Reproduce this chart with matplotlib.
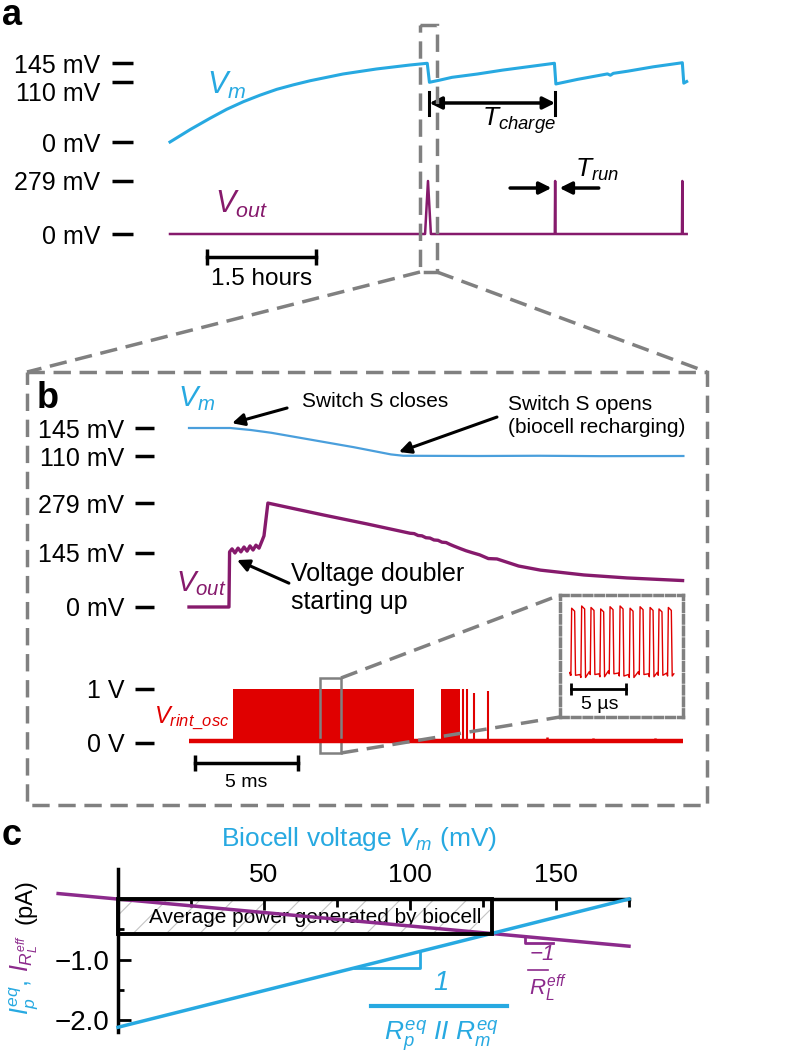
import numpy as np
import matplotlib
matplotlib.use('Agg')
import matplotlib.pyplot as plt
from matplotlib.patches import Rectangle

W, H = 788, 1061
plt.rcParams['font.family'] = ['Liberation Sans', 'DejaVu Sans']
plt.rcParams['mathtext.fontset'] = 'custom'
plt.rcParams['mathtext.rm'] = 'Liberation Sans'
plt.rcParams['mathtext.it'] = 'Liberation Sans:italic'
plt.rcParams['mathtext.bf'] = 'Liberation Sans:bold'
plt.rcParams['hatch.linewidth'] = 0.8

CYAN = '#27a9e1'
BLUE_B = '#4a9fdc'
PURPLE = '#861a6c'
PURPLE_C = '#8c2a8c'
RED = '#e00000'
GRAY = '#808080'

# ---- panel a: hours / mV ----
a_vm_t = [0.0, 0.28, 0.55, 0.78, 1.01, 1.24, 1.47, 1.70, 1.93, 2.38, 2.84, 3.30,
          3.54, 3.57, 3.72, 3.88, 4.23, 4.58, 4.92,
          5.29, 5.31, 5.61, 6.02, 6.06, 6.10, 6.30, 6.65,
          7.05, 7.07, 7.11]
a_vm_mv = [0, 23, 43.5, 60, 74, 86, 96.7, 105, 112.5, 124.8, 134, 141.3,
           144.5, 109.6, 113.8, 118.7, 124.8, 132, 138,
           144.5, 106.5, 115, 125, 122.5, 126, 130, 138,
           145.5, 108, 111]
a_out_t = [0, 3.51, 3.55, 3.59, 5.295, 5.30, 5.305, 7.045, 7.05, 7.055, 7.11]
a_out_mv = [0, 0, 279, 0, 0, 279, 0, 0, 279, 0, 0]
a_vm_ticks = [0, 110, 145]
a_vm_labels = ['0 mV', '110 mV', '145 mV']
a_out_ticks = [0, 279]
a_out_labels = ['0 mV', '279 mV']

# ---- panel b: ms / mV / V ----
b_vm_t = [0, 2.0, 3.0, 4.0, 5.0, 6.0, 7.0, 8.0, 9.0, 9.8, 10.4, 14.0, 17.0, 20.0, 24.0]
b_vm_mv = [145, 145, 142.5, 139, 134.5, 130, 125.5, 121, 116, 112, 110.3, 110, 110.3, 109.8, 110]
b_out_t = [0, 1.94, 1.97, 2.09, 2.23, 2.38, 2.52, 2.67, 2.82, 2.96,
           3.11, 3.25, 3.40, 3.54, 3.64, 3.83, 6.53, 8.64, 10.73, 10.93,
           11.12, 11.31, 11.50, 11.70, 11.89, 12.09, 12.28, 12.48, 12.67, 12.84,
           13.16, 13.45, 13.74, 14.11, 14.53, 14.95, 16.0, 17.06, 19.17, 21.26,
           23.96]
b_out_mv = [0, 0, 148, 156, 145, 158, 148, 161, 150, 164,
            153, 166, 158, 177, 191, 279, 247, 223, 198, 197,
            192, 191, 186, 185, 180, 179, 174, 173, 168, 164,
            157, 151, 146, 140, 130, 129, 110, 99, 86, 78,
            71]
b_vm_ticks = [110, 145]
b_vm_labels = ['110 mV', '145 mV']
b_out_ticks = [0, 145, 279]
b_out_labels = ['0 mV', '145 mV', '279 mV']

osc_bursts = [(2.14, 10.92), (12.23, 13.16)]
osc_spike_t = [13.30, 13.50, 13.83, 14.51]
osc_spike_v = [1.0, 1.0, 0.93, 0.97]
osc_base = 0.03
osc_noise_t = [0.35, 0.8, 1.2, 1.6, 11.4, 11.9, 15.3, 16.1, 17.4, 18.3, 19.6, 20.4, 21.5, 22.6, 23.4]
osc_noise_v = [0.07, 0.08, 0.06, 0.07, 0.09, 0.07, 0.07, 0.08, 0.12, 0.08, 0.10, 0.07, 0.08, 0.09, 0.07]
osc_ticks = [0, 1]
osc_labels = ['0 V', '1 V']

# inset, microseconds
pulse_center_us = [0.21, 1.12, 1.97, 2.85, 3.70, 4.61, 5.52, 6.43, 7.34, 8.15, 9.0]
pulse_top_v = [0.97, 1.0, 0.98, 0.96, 0.99, 1.0, 0.97, 0.99, 0.98, 0.96, 0.98]
pulse_low_v = [0.06, 0.03, 0.07, 0.04, 0.08, 0.05, 0.03, 0.07, 0.04, 0.06, 0.05]

# ---- panel c: mV / pA ----
c_vm = [0, 175]
c_ip = [-2.12, 0.0]
c_rl_vm = [-20.5, 175]
c_rl_i = [0.09, -0.78]

fig = plt.figure(figsize=(W / 100, H / 100), dpi=100)


def make_ax(box, x0, xs, y0, ys):
    # box in pixels (left, right, top, bottom); x0/y0 = pixel of data zero, xs/ys = px per unit
    l, r, t, b = box
    ax = fig.add_axes([l / W, 1 - b / H, (r - l) / W, (b - t) / H])
    ax.set_xlim((l - x0) / xs, (r - x0) / xs)
    ax.set_ylim((y0 - b) / ys, (y0 - t) / ys)
    ax.patch.set_visible(False)
    return ax


def trace_ax(ax, ticks, labels, length, pad):
    for s in ax.spines.values():
        s.set_visible(False)
    ax.set_xticks([])
    ax.set_yticks(ticks, labels)
    ax.tick_params(axis='y', direction='out', length=length, width=2.5, labelsize=18, pad=pad)


# panel a
ax_vm = make_ax((133, 700, 50, 150), 170, 72.67, 142, 0.5448)
ax_out = make_ax((133, 700, 170, 245), 170, 72.67, 234, 0.19)
trace_ax(ax_vm, a_vm_ticks, a_vm_labels, 15, 8.5)
trace_ax(ax_out, a_out_ticks, a_out_labels, 15, 8.5)
for lbl in ax_vm.get_yticklabels():
    if lbl.get_text() == '110 mV':
        lbl.set_va('top')
ax_vm.plot(a_vm_t, a_vm_mv, color=CYAN, lw=2.2, clip_on=False)
ax_out.plot(a_out_t, a_out_mv, color=PURPLE, lw=1.8, clip_on=False)
ax_vm.text(0.51, 103, r'$V_m$', color=CYAN, fontsize=22, va='center')
ax_out.text(0.62, 153, r'$V_{out}$', color=PURPLE, fontsize=22, va='center')

ax_vm.plot([3.57, 3.57], [49.6, 91.8], color='k', lw=2.2, clip_on=False)
ax_vm.plot([5.30, 5.30], [49.6, 91.8], color='k', lw=2.2, clip_on=False)
ax_vm.annotate('', xy=(5.30, 71.6), xytext=(3.57, 71.6),
               arrowprops=dict(arrowstyle='<|-|>', lw=2.5, color='k', mutation_scale=18,
                               shrinkA=0, shrinkB=0))
ax_vm.text(4.29, 38.5, r'$T_{charge}$', fontsize=19, va='center')
ax_out.annotate('', xy=(5.25, 242), xytext=(4.68, 242),
                arrowprops=dict(arrowstyle='-|>', lw=2.5, color='k', mutation_scale=18,
                                shrinkA=0, shrinkB=0))
ax_out.annotate('', xy=(5.36, 242), xytext=(5.90, 242),
                arrowprops=dict(arrowstyle='-|>', lw=2.5, color='k', mutation_scale=18,
                                shrinkA=0, shrinkB=0))
ax_out.text(5.57, 337, r'$T_{run}$', fontsize=19, va='center')
ax_out.plot([0.51, 2.01], [-121, -121], color='k', lw=2.5, marker='|', ms=11, mew=2.5, clip_on=False)
ax_out.text(1.26, -237, '1.5 hours', fontsize=17.5, ha='center', va='center')

# panel b
ax_bvm = make_ax((154, 695, 415, 465), 189, 20.6, 544, 0.8)
ax_bout = make_ax((154, 695, 495, 612), 189, 20.6, 607, 0.3725)
ax_osc = make_ax((154, 695, 680, 750), 189, 20.6, 743, 54)
trace_ax(ax_bvm, b_vm_ticks, b_vm_labels, 13.5, 8)
trace_ax(ax_bout, b_out_ticks, b_out_labels, 13.5, 8)
trace_ax(ax_osc, osc_ticks, osc_labels, 13.5, 8)

ax_bvm.plot(b_vm_t, b_vm_mv, color=BLUE_B, lw=1.6, clip_on=False)
ax_bout.plot(b_out_t, b_out_mv, color=PURPLE, lw=2.4, clip_on=False)
ax_bvm.text(-0.53, 182, r'$V_m$', color=CYAN, fontsize=21, va='center', clip_on=False)
ax_bout.text(-0.63, 64, r'$V_{out}$', color=PURPLE, fontsize=21, va='center')

arrow_kw = dict(arrowstyle='-|>', lw=2.2, color='k', mutation_scale=18, shrinkA=0, shrinkB=0)
ax_bvm.annotate('', xy=(2.09, 151), xytext=(4.76, 170), arrowprops=arrow_kw)
ax_bvm.text(5.49, 178.5, 'Switch S closes', fontsize=15, va='center')
ax_bvm.annotate('', xy=(10.19, 115), xytext=(14.95, 158.7), arrowprops=arrow_kw)
ax_bvm.text(15.49, 160, 'Switch S opens\n(biocell recharging)', fontsize=15, va='center',
            linespacing=1.3)
ax_bout.annotate('', xy=(2.33, 126), xytext=(4.85, 64), arrowprops=arrow_kw)
ax_bout.text(4.95, 51, 'Voltage doubler\nstarting up', fontsize=18, va='center', linespacing=1.25)

ax_osc.plot([0, 23.96], [osc_base, osc_base], color=RED, lw=3.2, solid_capstyle='butt')
for t0, t1 in osc_bursts:
    ax_osc.fill_between([t0, t1], 0, 1.0, color=RED, lw=0)
ax_osc.vlines(osc_spike_t, osc_base, osc_spike_v, color=RED, lw=1.5)
ax_osc.vlines(osc_noise_t, osc_base, osc_noise_v, color=RED, lw=1.8)
ax_osc.text(1.94, 0.46, r'$V_{rint\_osc}$', color=RED, fontsize=17, ha='right', va='center')
ax_osc.plot([0.29, 5.29], [-0.37, -0.37], color='k', lw=2.5, marker='|', ms=11, mew=2.5, clip_on=False)
ax_osc.text(2.79, -0.74, '5 ms', fontsize=14, ha='center', va='center')
ax_osc.add_patch(Rectangle((6.36, -0.19), 1.02, 1.39, fill=False, ec=GRAY, lw=1.8, clip_on=False))

# inset
ax_ins = make_ax((560, 683, 595, 717), 571, 11.0, 679.7, 73.7)
ax_ins.set_xticks([])
ax_ins.set_yticks([])
for s in ax_ins.spines.values():
    s.set_color(GRAY)
    s.set_linewidth(2.5)
    s.set_linestyle((0, (2.2, 1.2)))
ins_t, ins_v = [-0.05], [pulse_low_v[0]]
for c, top, low in zip(pulse_center_us, pulse_top_v, pulse_low_v):
    ins_t += [c - 0.3, c - 0.22, c - 0.15, c + 0.12, c + 0.2]
    ins_v += [low + 0.04, low, top, top - 0.04, low]
ins_t += [9.35]
ins_v += [pulse_low_v[-1] + 0.03]
ax_ins.plot(ins_t, ins_v, color=RED, lw=1.0, clip_on=False)
ax_ins.plot([0, 5], [-0.126, -0.126], color='k', lw=2, marker='|', ms=9, mew=2, clip_on=False)
ax_ins.text(2.6, -0.33, '5 µs', fontsize=14, ha='center', va='center')

# panel c
ax_c = make_ax((50, 645, 862, 1045), 118, 2.92, 899, 60.5)
ax_c.spines['right'].set_visible(False)
ax_c.spines['bottom'].set_visible(False)
ax_c.spines['left'].set_position(('data', 0))
ax_c.spines['top'].set_position(('data', 0))
ax_c.spines['left'].set_bounds(-2.2, 0.5)
ax_c.spines['top'].set_bounds(0, 175)
ax_c.spines['left'].set_linewidth(2.5)
ax_c.spines['top'].set_linewidth(2.5)
ax_c.xaxis.set_ticks_position('top')
ax_c.yaxis.set_ticks_position('left')
ax_c.set_xticks([50, 100, 150], ['50', '100', '150'])
ax_c.set_xticks([25, 75, 125, 175], minor=True)
ax_c.set_yticks([-1, -2], ['−1.0', '−2.0'])
ax_c.set_yticks([-0.5, -1.5], minor=True)
ax_c.tick_params(axis='x', which='major', direction='in', length=8, width=2, labelsize=19, pad=9)
ax_c.tick_params(axis='x', which='minor', direction='in', length=6, width=2)
ax_c.tick_params(axis='y', which='major', direction='in', length=9.5, width=2, labelsize=20, pad=6)
ax_c.tick_params(axis='y', which='minor', direction='in', length=4.5, width=2)

slope_p = (c_ip[1] - c_ip[0]) / (c_vm[1] - c_vm[0])
slope_l = (c_rl_i[1] - c_rl_i[0]) / (c_rl_vm[1] - c_rl_vm[0])
v_int = (c_ip[0] - (c_rl_i[0] - slope_l * c_rl_vm[0])) / (slope_l - slope_p)
i_int = c_ip[0] + slope_p * v_int

ax_c.add_patch(Rectangle((0, i_int), v_int, -i_int, fill=False, hatch='/', ec='#c4c4c4', lw=0, zorder=1))
ax_c.add_patch(Rectangle((0, i_int), v_int, -i_int, fill=False, ec='k', lw=2.8, zorder=4))
ax_c.text(v_int * 0.528, -0.3, 'Average power generated by biocell', fontsize=15,
          ha='center', va='center', zorder=2)
ax_c.plot(c_rl_vm, c_rl_i, color=PURPLE_C, lw=2.5, zorder=3, clip_on=False)
ax_c.plot(c_vm, c_ip, color=CYAN, lw=2.5, zorder=3, clip_on=False)

tv0, tv1 = 81.2, 103.4
ax_c.plot([tv0, tv1, tv1], [c_ip[0] + slope_p * tv0, c_ip[0] + slope_p * tv0, c_ip[0] + slope_p * tv1],
          color=CYAN, lw=2)
pv0, pv1 = 139.4, 149.0
pl0 = c_rl_i[0] + slope_l * (pv0 - c_rl_vm[0])
pl1 = c_rl_i[0] + slope_l * (pv1 - c_rl_vm[0])
ax_c.plot([pv0, pv0, pv1], [pl0, pl1 - 0.06, pl1 - 0.06], color=PURPLE_C, lw=2)

# overlay for figure-level decorations
ov = fig.add_axes([0, 0, 1, 1])
ov.set_xlim(0, W)
ov.set_ylim(H, 0)
ov.axis('off')
ov.patch.set_visible(False)
dash = (0, (5, 2.5))
ov.add_patch(Rectangle((420, 25), 17, 247, fill=False, ec=GRAY, lw=2.5, ls=dash))
ov.plot([420, 27], [272, 372], color=GRAY, lw=2.5, ls=dash)
ov.plot([437, 707], [272, 372], color=GRAY, lw=2.5, ls=dash)
ov.add_patch(Rectangle((27, 372), 680, 433, fill=False, ec=GRAY, lw=2.5, ls=dash))
ov.plot([341, 560], [678, 595], color=GRAY, lw=2.5, ls=dash)
ov.plot([341, 560], [753, 717], color=GRAY, lw=2.5, ls=dash)

ov.text(2, 25, 'a', fontsize=26, fontweight='bold', va='baseline')
ov.text(37, 408, 'b', fontsize=26, fontweight='bold', va='baseline')
ov.text(2, 845, 'c', fontsize=26, fontweight='bold', va='baseline')

ov.text(359, 839, r'Biocell voltage $V_m$ (mV)', color=CYAN, fontsize=19, ha='center', va='center')
ov.text(26, 902, '(pA)', fontsize=17, rotation=90, ha='center', va='center')
ov.text(24, 953, r'$I_{R_L^{eff}}$', color=PURPLE_C, fontsize=18, rotation=90, ha='center', va='center')
ov.text(24, 997, r'$I_p^{eq}$,', color=CYAN, fontsize=18, rotation=90, ha='center', va='center')

ov.text(441, 983, '1', color=CYAN, fontsize=20, fontstyle='italic', ha='center', va='center')
ov.plot([371, 507], [1006, 1006], color=CYAN, lw=3)
ov.text(441, 1036, r'$R_p^{eq}\ II\ R_m^{eq}$', color=CYAN, fontsize=19, ha='center', va='center')
ov.text(542, 954, '−1', color=PURPLE_C, fontsize=16, fontstyle='italic', ha='center', va='center')
ov.plot([528, 548], [970, 970], color=PURPLE_C, lw=1.2)
ov.text(548, 988, r'$R_L^{eff}$', color=PURPLE_C, fontsize=16, ha='center', va='center')

fig.savefig('out.png', dpi=100)
